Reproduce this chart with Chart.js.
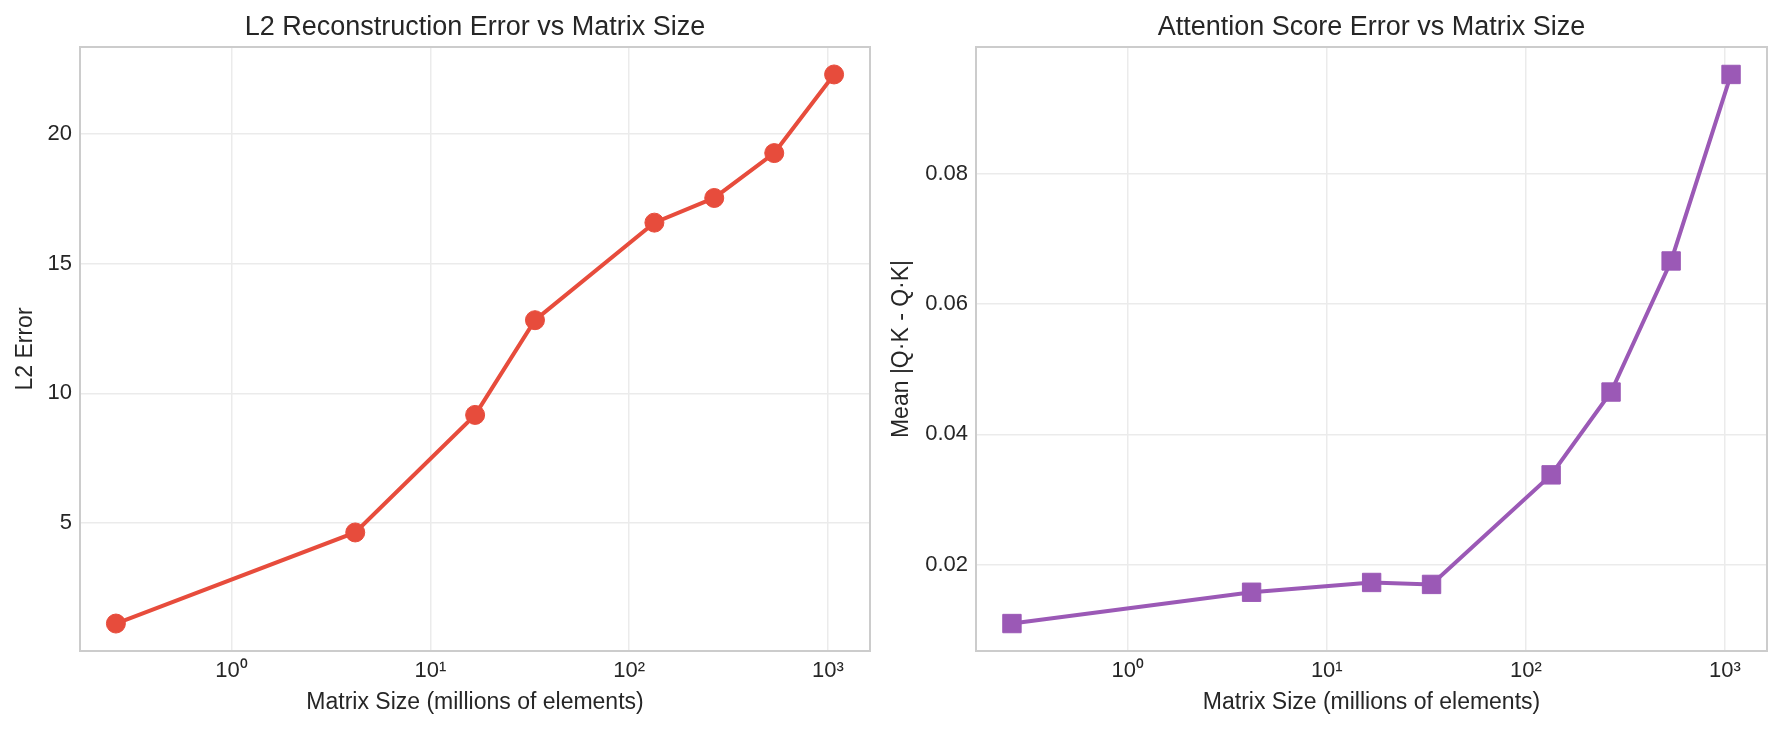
<!DOCTYPE html>
<html>
<head>
<meta charset="utf-8">
<script src="https://cdn.jsdelivr.net/npm/chart.js@4"></script>
<style>
  body { margin: 0; background: #fff; }
  #wrap { position: relative; width: 1782px; height: 730px; }
  canvas { position: absolute; top: 0; }
</style>
</head>
<body>
<div id="wrap">
  <canvas id="l2Chart" width="891" height="730" style="left:0px"></canvas>
  <canvas id="attnChart" width="897" height="730" style="left:885px"></canvas>
</div>
<script>
// Data
const matrixSizes = [0.262, 4.19, 16.8, 33.6, 134, 268, 537, 1074]; // millions of elements
const l2Errors = [1.13, 4.64, 9.17, 12.82, 16.58, 17.53, 19.26, 22.29];
const attnErrors = [0.0110, 0.0158, 0.0173, 0.0170, 0.0338, 0.0465, 0.0666, 0.0952];

// Tick labels
const xTickValues = [1, 10, 100, 1000];
const xTickLabels = ['10\u2070', '10\u00B9', '10\u00B2', '10\u00B3'];
const l2Ticks = [5, 10, 15, 20];
const attnTicks = [0.02, 0.04, 0.06, 0.08];

const textColor = '#262626';
const gridColor = '#ebebeb';
const spineColor = '#cccccc';
const fontFamily = "'Liberation Sans', Arial, sans-serif";

Chart.defaults.font.family = fontFamily;
Chart.defaults.color = textColor;

// matplotlib style 5% margins
function padRange(vals, log) {
    const v = log ? vals.map(Math.log10) : vals;
    const lo = Math.min(...v), hi = Math.max(...v);
    const m = (hi - lo) * 0.05;
    return log ? [Math.pow(10, lo - m), Math.pow(10, hi + m)] : [lo - m, hi + m];
}

// draws the full box around the plot area
const boxPlugin = {
    id: 'box',
    afterDraw(chart) {
        const a = chart.chartArea;
        const c = chart.ctx;
        c.save();
        c.strokeStyle = spineColor;
        c.lineWidth = 2;
        c.strokeRect(a.left, a.top, a.right - a.left, a.bottom - a.top);
        c.restore();
    }
};

function makeChart(id, title, yTitle, values, yTicks, color, pointStyle, radius, yWidth, yTitlePad, padRight, fmt) {
    const xr = padRange(matrixSizes, true);
    const yr = padRange(values, false);
    return new Chart(document.getElementById(id).getContext('2d'), {
        type: 'line',
        data: {
            datasets: [{
                data: matrixSizes.map((x, i) => ({x: x, y: values[i]})),
                borderColor: color,
                backgroundColor: color,
                borderWidth: 4,
                tension: 0,
                pointStyle: pointStyle,
                pointRadius: radius,
                pointBorderWidth: 1,
                pointBorderColor: color,
                pointBackgroundColor: color
            }]
        },
        options: {
            responsive: false,
            animation: false,
            layout: { padding: { left: 0, right: padRight, top: 0, bottom: 0 } },
            plugins: {
                legend: { display: false },
                tooltip: { enabled: false },
                title: {
                    display: true,
                    text: title,
                    fullSize: false,
                    color: textColor,
                    font: { size: 27, weight: 'normal', family: fontFamily },
                    padding: { top: 11, bottom: 3.6 }
                }
            },
            scales: {
                x: {
                    type: 'logarithmic',
                    min: xr[0],
                    max: xr[1],
                    afterBuildTicks: (s) => { s.ticks = xTickValues.map(v => ({value: v})); },
                    afterFit: (s) => { s.height = 79; },
                    ticks: {
                        padding: 7,
                        maxRotation: 0,
                        font: { size: 22 },
                        callback: (v) => xTickLabels[xTickValues.indexOf(v)]
                    },
                    grid: { color: gridColor, lineWidth: 1.5, drawTicks: false },
                    border: { display: false },
                    title: {
                        display: true,
                        text: 'Matrix Size (millions of elements)',
                        font: { size: 23 },
                        padding: { top: 0, bottom: 14 }
                    }
                },
                y: {
                    min: yr[0],
                    max: yr[1],
                    afterBuildTicks: (s) => { s.ticks = yTicks.map(v => ({value: v})); },
                    afterFit: (s) => { s.width = yWidth; },
                    ticks: {
                        padding: 8,
                        font: { size: 22 },
                        callback: fmt
                    },
                    grid: { color: gridColor, lineWidth: 1.5, drawTicks: false },
                    border: { display: false },
                    title: {
                        display: true,
                        text: yTitle,
                        font: { size: 23 },
                        padding: { top: yTitlePad, bottom: 0 }
                    }
                }
            }
        },
        plugins: [boxPlugin]
    });
}

makeChart('l2Chart', 'L2 Reconstruction Error vs Matrix Size', 'L2 Error',
    l2Errors, l2Ticks, '#e74c3c', 'circle', 9.5, 80, 12, 21, (v) => String(v));

makeChart('attnChart', 'Attention Score Error vs Matrix Size', 'Mean |Q\u00B7K - Q\u00B7K|',
    attnErrors, attnTicks, '#9b59b6', 'rect', 13, 91, 3, 15, (v) => v.toFixed(2));
</script>
</body>
</html>
